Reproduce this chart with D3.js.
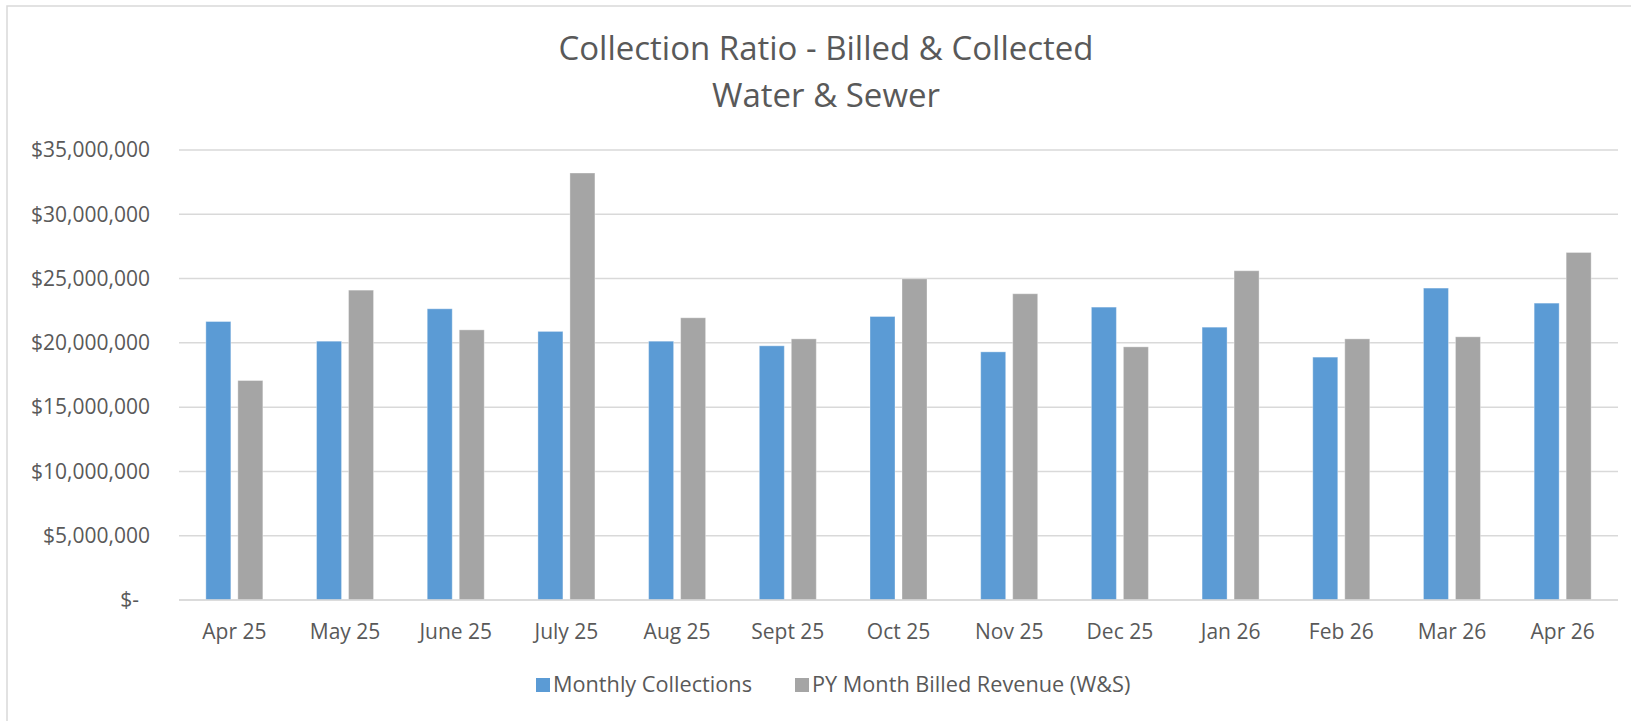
<!DOCTYPE html>
<html>
<head>
<meta charset="utf-8">
<script src="https://cdn.jsdelivr.net/npm/d3@7"></script>
<style>
  body { margin: 0; background: #fff; }
  svg text { font-family: "Open Sans", sans-serif; fill: #595959; }
</style>
</head>
<body>
<div id="chart"></div>
<script>
"use strict";

// chart values
var months = ["Apr 25", "May 25", "June 25", "July 25", "Aug 25", "Sept 25", "Oct 25",
              "Nov 25", "Dec 25", "Jan 26", "Feb 26", "Mar 26", "Apr 26"];
var collections = [21660000, 20130000, 22650000, 20890000, 20130000, 19770000, 22050000,
                   19300000, 22780000, 21220000, 18890000, 24260000, 23090000];
var billed = [17070000, 24100000, 21010000, 33210000, 21950000, 20310000, 24980000,
              23820000, 19690000, 25610000, 20310000, 20470000, 27030000];
var seriesNames = ["Monthly Collections", "PY Month Billed Revenue (W&S)"];
var yTicks = [0, 5000000, 10000000, 15000000, 20000000, 25000000, 30000000, 35000000];
var titleLines = ["Collection Ratio - Billed & Collected", "Water & Sewer"];

var colors = ["#5B9BD5", "#A5A5A5"];

var W = 1631, H = 721;
var margin = { top: 150, right: 13, bottom: 121, left: 179 };
var w = W - margin.left - margin.right,
    h = H - margin.top - margin.bottom;

var svg = d3.select("#chart").append("svg")
    .attr("width", W)
    .attr("height", H);

// outer chart frame (only top/left edges land in the window)
svg.append("rect")
    .attr("x", 7).attr("y", 6)
    .attr("width", W).attr("height", H)
    .attr("fill", "none")
    .attr("stroke", "#d9d9d9")
    .attr("stroke-width", 1.5);

// title
svg.selectAll(".title").data(titleLines).enter().append("text")
    .attr("class", "title")
    .attr("x", 826)
    .attr("y", function(d, i) { return 60 + i * 47; })
    .attr("text-anchor", "middle")
    .style("font-size", "33px")
    .text(function(d) { return d; });

var g = svg.append("g")
    .attr("transform", "translate(" + margin.left + "," + margin.top + ")");

var y = d3.scaleLinear().domain([0, 35000000]).range([h, 0]);
var x = d3.scaleBand().domain(months).range([0, w]);
var xs = d3.scaleBand().domain(seriesNames).range([0, 57]).paddingInner(0.21875);
var groupOffset = (x.bandwidth() - 57) / 2;

// gridlines
g.selectAll(".grid").data(yTicks).enter().append("line")
    .attr("class", "grid")
    .attr("x1", 0).attr("x2", w)
    .attr("y1", function(d) { return y(d); })
    .attr("y2", function(d) { return y(d); })
    .attr("stroke", "#d9d9d9")
    .attr("stroke-width", 1.5);

var yAxis = d3.axisLeft(y)
    .tickValues(yTicks)
    .tickSize(0)
    .tickPadding(29)
    .tickFormat(function(d) { return d === 0 ? "$-" : "$" + d3.format(",")(d); });

var yg = g.append("g").attr("class", "yaxis").call(yAxis);
yg.select(".domain").remove();
yg.selectAll("text").style("font-size", "21px");
// accounting format leaves room after the dash
yg.selectAll(".tick").filter(function(d) { return d === 0; })
    .select("text").attr("x", -40);

var xAxis = d3.axisBottom(x).tickSize(0).tickPadding(24);
var xg = g.append("g").attr("class", "xaxis")
    .attr("transform", "translate(0," + h + ")")
    .call(xAxis);
xg.select(".domain").remove();
xg.selectAll("text").style("font-size", "21px");

// bars
var rows = months.map(function(m, i) {
    return { month: m, values: [collections[i], billed[i]] };
});

var groups = g.selectAll(".group").data(rows).enter().append("g")
    .attr("class", "group")
    .attr("transform", function(d) { return "translate(" + (x(d.month) + groupOffset) + ",0)"; });

groups.selectAll("rect")
    .data(function(d) { return d.values.map(function(v, j) { return { name: seriesNames[j], value: v, idx: j }; }); })
    .enter().append("rect")
    .attr("x", function(d) { return xs(d.name); })
    .attr("y", function(d) { return y(d.value); })
    .attr("width", xs.bandwidth())
    .attr("height", function(d) { return h - y(d.value); })
    .attr("fill", function(d) { return colors[d.idx]; })
    .attr("stroke", "#ffffff")
    .attr("stroke-opacity", 0.35)
    .attr("stroke-width", 1);

// baseline
g.append("line")
    .attr("x1", 0).attr("x2", w)
    .attr("y1", h).attr("y2", h)
    .attr("stroke", "#d9d9d9")
    .attr("stroke-width", 1.5);

// legend
var legendX = [536, 795];
var legend = svg.selectAll(".legend").data(seriesNames).enter().append("g")
    .attr("class", "legend")
    .attr("transform", function(d, i) { return "translate(" + legendX[i] + ",678)"; });
legend.append("rect")
    .attr("width", 14).attr("height", 14)
    .attr("fill", function(d, i) { return colors[i]; });
legend.append("text")
    .attr("x", 17)
    .attr("y", 14)
    .style("font-size", "21.7px")
    .text(function(d) { return d; });
</script>
</body>
</html>
